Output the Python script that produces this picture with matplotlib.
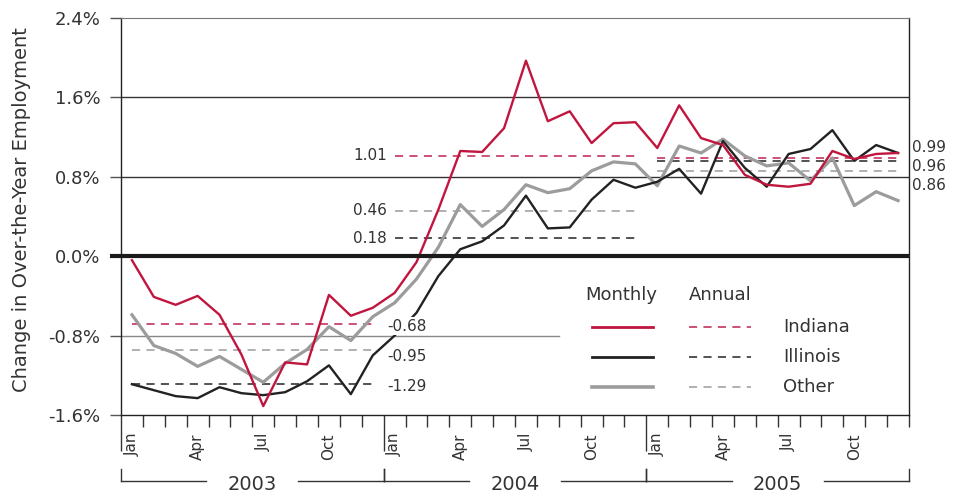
import matplotlib
matplotlib.use('Agg')
import matplotlib.pyplot as plt
from matplotlib import rcParams
rcParams['font.family'] = ['DejaVu Sans']
rcParams['text.color'] = '#333333'

# monthly over-the-year change (%), Jan 2003 .. Dec 2005
indiana = [-0.04, -0.41, -0.49, -0.40, -0.59, -0.99, -1.51, -1.07, -1.09, -0.39, -0.60, -0.52,
           -0.37, -0.06, 0.47, 1.06, 1.05, 1.29, 1.97, 1.36, 1.46, 1.14, 1.34, 1.35,
           1.09, 1.52, 1.19, 1.12, 0.82, 0.72, 0.70, 0.73, 1.06, 0.98, 1.03, 1.04]
illinois = [-1.29, -1.35, -1.41, -1.43, -1.32, -1.38, -1.40, -1.37, -1.26, -1.10, -1.39, -1.00,
            -0.80, -0.57, -0.20, 0.07, 0.15, 0.31, 0.61, 0.28, 0.29, 0.57, 0.77, 0.69,
            0.75, 0.88, 0.63, 1.16, 0.89, 0.70, 1.03, 1.08, 1.27, 0.96, 1.12, 1.04]
other = [-0.59, -0.90, -0.98, -1.11, -1.01, -1.14, -1.27, -1.08, -0.94, -0.71, -0.85, -0.61,
         -0.47, -0.23, 0.09, 0.52, 0.30, 0.47, 0.72, 0.64, 0.68, 0.86, 0.95, 0.93,
         0.71, 1.11, 1.04, 1.18, 1.01, 0.91, 0.94, 0.76, 0.99, 0.51, 0.65, 0.56]
# annual averages
years = ['2003', '2004', '2005']
annual_indiana = [-0.68, 1.01, 0.99]
annual_illinois = [-1.29, 0.18, 0.96]
annual_other = [-0.95, 0.46, 0.86]
month_names = ['Jan', 'Apr', 'Jul', 'Oct']
yticks = [-1.6, -0.8, 0.0, 0.8, 1.6, 2.4]

red = '#C0163E'
blk = '#222222'
gry = '#9C9C9C'

fig = plt.figure(figsize=(9.59, 4.97), dpi=100)
ax = fig.add_axes([121/959, 82/497, 788/959, 397/497])
ax.set_xlim(0, 36)
ax.set_ylim(-1.6, 2.4)
pxx = 788/36.0   # px per month
pxy = 397/4.0    # px per unit

x = [i + 0.5 for i in range(36)]

# grid lines
ax.axhline(1.6, color='#333333', lw=1, zorder=1)
ax.axhline(0.8, color='#333333', lw=1, zorder=1)
ax.plot([0, 20], [-0.8, -0.8], color='#888888', lw=1, zorder=1)
ax.plot([-11/pxx, 36], [0, 0], color='#1a1a1a', lw=3, zorder=4, clip_on=False, solid_capstyle='butt')

ax.plot(x, other, color=gry, lw=2.3, zorder=3)
ax.plot(x, illinois, color=blk, lw=1.7, zorder=3)
ax.plot(x, indiana, color=red, lw=1.7, zorder=3)

# annual dashed lines + labels
dash_cols = {'ind': '#C8436A', 'ill': '#444444', 'oth': '#AAAAAA'}
for k in range(3):
    xs = [12*k + 0.5, 12*k + 11.5]
    ax.plot(xs, [annual_indiana[k]]*2, color=dash_cols['ind'], lw=1.3, dashes=(4.5, 3.5), zorder=2)
    ax.plot(xs, [annual_illinois[k]]*2, color=dash_cols['ill'], lw=1.3, dashes=(4.5, 3.5), zorder=2)
    ax.plot(xs, [annual_other[k]]*2, color=dash_cols['oth'], lw=1.3, dashes=(4.5, 3.5), zorder=2)

bb = dict(facecolor='white', edgecolor='none', pad=1)
lx = (387 - 121)/pxx
for v, yy in zip([annual_indiana[0], annual_other[0], annual_illinois[0]], [327, 357, 387]):
    ax.text(lx, (257 - yy)/pxy, '%.2f' % v, fontsize=11, ha='left', va='center', bbox=bb, zorder=5)
for v in [annual_indiana[1], annual_other[1], annual_illinois[1]]:
    ax.text((387 - 121)/pxx, v, '%.2f' % v, fontsize=11, ha='right', va='center', bbox=bb, zorder=5)
for v, yy in zip([annual_indiana[2], annual_illinois[2], annual_other[2]], [148, 167, 186]):
    ax.text((912 - 121)/pxx, (257 - yy)/pxy, '%.2f' % v, fontsize=11, ha='left', va='center', clip_on=False)

# legend drawn by hand
def fx(px):
    return (px - 121)/788.0
def fy(py):
    return (415 - py)/397.0
ax.text(fx(621), fy(295), 'Monthly', transform=ax.transAxes, fontsize=13, ha='center', va='center')
ax.text(fx(720), fy(295), 'Annual', transform=ax.transAxes, fontsize=13, ha='center', va='center')
rows = [('Indiana', red, 2.0, dash_cols['ind']), ('Illinois', blk, 2.0, dash_cols['ill']),
        ('Other', gry, 2.6, dash_cols['oth'])]
for j, (name, c, lw, dc) in enumerate(rows):
    yy = fy(327 + 30*j)
    ax.plot([fx(592), fx(653)], [yy, yy], color=c, lw=lw, transform=ax.transAxes)
    ax.plot([fx(689), fx(751)], [yy, yy], color=dc, lw=1.3, dashes=(4.5, 3.5), transform=ax.transAxes)
    ax.text(fx(783), yy, name, transform=ax.transAxes, fontsize=13, ha='left', va='center')

# spines
for s in ['left', 'right', 'bottom']:
    ax.spines[s].set_color('#222222')
    ax.spines[s].set_linewidth(1)
ax.spines['top'].set_color('#777777')

# y axis
ax.set_yticks(yticks)
ax.set_yticklabels(['%.1f%%' % t for t in yticks], fontsize=13, color='#333333')
ax.tick_params(axis='y', length=8, width=1, pad=7, color='#555555')
fig.text(22/959, 1 - 210/497, 'Change in Over-the-Year Employment', rotation=90,
         fontsize=14, ha='center', va='center')

# x axis ticks: month boundaries, longer at year breaks
ax.set_xticks([0, 12, 24])
ax.set_xticks([i for i in range(1, 37) if i % 12 != 0 or i == 36], minor=True)
ax.tick_params(axis='x', which='major', length=26, width=1, color='#333333', labelbottom=False)
ax.tick_params(axis='x', which='minor', length=8.6, width=1, color='#333333')
ymon = -1.6 - 18/pxy
for k in range(3):
    for m, name in enumerate(month_names):
        ax.text(12*k + 3*m + 0.5, ymon, name, rotation=90, ha='center', va='top', fontsize=11,
                clip_on=False)

# year brackets
ybr = -1.6 - 66/pxy
ytop = -1.6 - 54/pxy
gap = 2.1
for k, yr in enumerate(years):
    a, b = 12*k, 12*k + 12
    c = (a + b)/2.0
    ax.plot([a, a], [ytop, ybr], color='#333333', lw=1, clip_on=False)
    ax.plot([b, b], [ytop, ybr], color='#333333', lw=1, clip_on=False)
    ax.plot([a, c - gap], [ybr, ybr], color='#333333', lw=1, clip_on=False)
    ax.plot([c + gap, b], [ybr, ybr], color='#333333', lw=1, clip_on=False)
    ax.text(c, ybr - 3/pxy, yr, ha='center', va='center', fontsize=14, clip_on=False)

fig.savefig('out.png', dpi=100)
plt.close(fig)
